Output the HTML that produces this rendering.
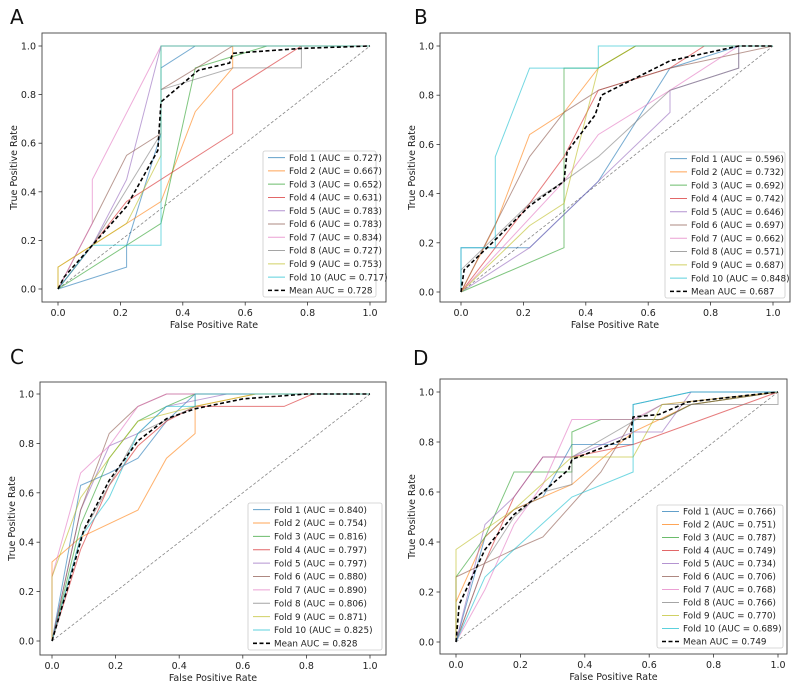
<!DOCTYPE html>
<html><head><meta charset="utf-8"><style>
html,body{margin:0;padding:0;background:#fff;}
svg{display:block;font-family:"DejaVu Sans","Liberation Sans",sans-serif;}
</style></head><body>
<svg id="s" width="799" height="682" xmlns="http://www.w3.org/2000/svg"></svg>
<script>
const NS="http://www.w3.org/2000/svg";
const S=document.getElementById('s');
function el(t,a,p){const e=document.createElementNS(NS,t);for(const k in a)e.setAttribute(k,a[k]);(p||S).appendChild(e);return e;}
function txt(x,y,s,a){const e=el('text',Object.assign({x:x,y:y},a||{}));e.textContent=s;return e;}
const C=['#1f77b4','#ff7f0e','#2ca02c','#d62728','#9467bd','#8c564b','#e377c2','#7f7f7f','#bcbd22','#17becf'];
const P=[
{L:'A',lx:10,ly:24,box:[42,33,344,269],x0:58,y0:289,W:312,H:243,leg:[263,151,113,146],
auc:['0.727','0.667','0.652','0.631','0.783','0.783','0.834','0.727','0.753','0.717'],mean:'0.728',
s:[[0,0,.22,.09,.22,.18,.33,.64,.33,.91,.44,1,1,1],
[0,0,0,.09,.11,.18,.33,.36,.44,.73,.56,.91,.56,1,1,1],
[0,0,.33,.27,.44,.91,.67,1,1,1],
[0,0,.11,.18,.22,.36,.56,.64,.56,.82,.78,1,1,1],
[0,0,.11,.18,.22,.45,.33,1,1,1],
[0,0,.11,.27,.22,.55,.33,.64,.33,.82,.56,1,1,1],
[0,0,.11,.27,.11,.45,.33,1,1,1],
[0,0,.11,.18,.33,.64,.33,.82,.56,.91,.78,.91,.78,1,1,1],
[0,0,0,.09,.11,.18,.22,.27,.33,.55,.33,1,1,1],
[0,0,.11,.18,.33,.18,.33,1,1,1]],
m:[0,0,.02,.05,.11,.18,.22,.34,.32,.57,.33,.77,.45,.9,.55,.93,.56,.97,.78,.99,1,1]},
{L:'B',lx:414,ly:24,box:[440,33,350,269],x0:461,y0:292,W:312,H:246,leg:[665,152,120,146],
auc:['0.596','0.732','0.692','0.742','0.646','0.697','0.662','0.571','0.687','0.848'],mean:'0.687',
s:[[0,0,0,.18,.22,.18,.44,.45,.67,.91,.89,1,1,1],
[0,0,.11,.27,.22,.64,.33,.73,.44,.91,.56,1,1,1],
[0,0,.33,.18,.33,.91,.44,.91,.56,1,1,1],
[0,0,.22,.36,.33,.55,.44,.82,.67,.91,.78,1,1,1],
[0,0,.22,.18,.44,.45,.67,.73,.67,.82,.89,.91,.89,1,1,1],
[0,0,.22,.55,.33,.73,.44,.82,.67,.91,1,1],
[0,0,.33,.45,.44,.64,.67,.82,.78,.91,.89,1,1,1],
[0,0,0,.09,.22,.36,.33,.45,.44,.55,.67,.82,.89,.91,.89,1,1,1],
[0,0,.22,.27,.33,.36,.44,.91,.56,1,1,1],
[0,0,0,.18,.11,.18,.11,.55,.22,.91,.44,.91,.44,1,1,1]],
m:[0,0,.01,.09,.1,.2,.22,.35,.33,.45,.34,.57,.43,.72,.45,.8,.56,.87,.67,.94,.78,.97,.89,1,1,1]},
{L:'C',lx:10,ly:364,box:[40,382,346,273],x0:52,y0:641,W:318,H:247,leg:[248,503,134,147],
auc:['0.840','0.754','0.816','0.797','0.797','0.880','0.890','0.806','0.871','0.825'],mean:'0.828',
s:[[0,0,.09,.63,.18,.68,.27,.74,.36,.89,.45,1,1,1],
[0,0,0,.32,.09,.42,.27,.53,.36,.74,.45,.84,.45,.95,.64,1,1,1],
[0,0,.09,.47,.18,.74,.27,.89,.36,.95,.45,1,1,1],
[0,0,.09,.37,.18,.63,.27,.79,.36,.89,.45,.95,.73,.95,.82,1,1,1],
[0,0,.09,.53,.18,.79,.27,.84,.36,.95,.55,1,1,1],
[0,0,.09,.53,.18,.84,.27,.95,.36,1,1,1],
[0,0,0,.26,.09,.68,.18,.79,.27,.95,.36,1,1,1],
[0,0,.09,.42,.18,.63,.27,.84,.45,.95,.45,1,1,1],
[0,0,0,.26,.09,.58,.18,.74,.27,.89,.45,.95,.64,1,1,1],
[0,0,.09,.42,.18,.58,.27,.84,.36,.95,.45,.95,.45,1,1,1]],
m:[0,0,.05,.22,.1,.45,.18,.65,.27,.81,.36,.9,.45,.94,.6,.98,.8,1,1,1]},
{L:'D',lx:413,ly:365,box:[440,379,347,275],x0:456,y0:642,W:322,H:250,leg:[657,505,126,143],
auc:['0.766','0.751','0.787','0.749','0.734','0.706','0.768','0.766','0.770','0.689'],mean:'0.749',
s:[[0,0,.09,.42,.18,.53,.27,.58,.36,.79,.55,.79,.55,.95,.73,1,1,1],
[0,0,0,.16,.09,.42,.18,.53,.36,.63,.55,.84,.73,.95,1,1],
[0,0,0,.26,.09,.42,.18,.68,.36,.68,.36,.84,.45,.89,.64,.89,.73,.95,1,1],
[0,0,.09,.32,.18,.58,.27,.74,.36,.74,.55,.79,1,1],
[0,0,.09,.47,.18,.58,.27,.74,.36,.74,.55,.84,.64,.84,.73,1,1,1],
[0,0,0,.26,.18,.37,.27,.42,.45,.68,.55,.89,.64,.89,.73,.95,1,1],
[0,0,.09,.21,.18,.47,.27,.63,.36,.89,.55,.89,.64,.95,1,1],
[0,0,.09,.32,.18,.5,.27,.6,.36,.63,.36,.74,.64,.95,.82,.95,1,.95,1,1],
[0,0,0,.37,.18,.53,.36,.74,.55,.74,.64,.95,1,1],
[0,0,.09,.26,.18,.37,.36,.58,.55,.68,.55,.95,.73,1,1,1]],
m:[0,0,.01,.15,.09,.37,.18,.51,.27,.6,.35,.69,.36,.73,.54,.82,.55,.9,.63,.91,.72,.96,1,1]}
];
for(const p of P){
  const X=v=>p.x0+v*p.W, Y=v=>p.y0-v*p.H;
  const pts=a=>{let r=[];for(let i=0;i<a.length;i+=2)r.push(X(a[i]).toFixed(1)+','+Y(a[i+1]).toFixed(1));return r.join(' ');};
  txt(p.lx,p.ly,p.L,{'font-size':20,fill:'#111'});
  const [bx,by,bw,bh]=p.box;
  el('line',{x1:X(0),y1:Y(0),x2:X(1),y2:Y(1),stroke:'#888','stroke-width':0.8,'stroke-dasharray':'3,2'});
  p.s.forEach((s,i)=>el('polyline',{points:pts(s),fill:'none',stroke:C[i],'stroke-width':1,'stroke-opacity':0.6}));
  el('polyline',{points:pts(p.m),fill:'none',stroke:'#000','stroke-width':1.6,'stroke-dasharray':'4,2.5'});
  el('rect',{x:bx,y:by,width:bw,height:bh,fill:'none',stroke:'#444','stroke-width':0.9});
  for(let i=0;i<=5;i++){const v=i/5,l=v.toFixed(1);
    el('line',{x1:X(v),y1:by+bh,x2:X(v),y2:by+bh+3.5,stroke:'#333','stroke-width':0.8});
    txt(X(v),by+bh+14,l,{'font-size':9.5,'text-anchor':'middle',fill:'#222'});
    el('line',{x1:bx,y1:Y(v),x2:bx-3.5,y2:Y(v),stroke:'#333','stroke-width':0.8});
    txt(bx-6,Y(v)+3.5,l,{'font-size':9.5,'text-anchor':'end',fill:'#222'});
  }
  txt(bx+bw/2,by+bh+26,'False Positive Rate',{'font-size':9.5,'text-anchor':'middle',fill:'#222'});
  const yl=txt(0,0,'True Positive Rate',{'font-size':9.5,'text-anchor':'middle',fill:'#222'});
  yl.setAttribute('transform','translate('+(bx-25)+','+(by+bh/2)+') rotate(-90)');
  const [lx,ly,lw,lh]=p.leg;
  el('rect',{x:lx,y:ly,width:lw,height:lh,fill:'#fff','fill-opacity':0.85,stroke:'#ccc','stroke-width':0.8,rx:2});
  const rh=lh/11;
  for(let i=0;i<11;i++){const yy=ly+rh*(i+0.5);
    const last=i==10;
    el('line',{x1:lx+5,y1:yy,x2:lx+22,y2:yy,stroke:last?'#000':C[i],'stroke-width':last?1.6:1,'stroke-dasharray':last?'4,2.5':'none','stroke-opacity':last?1:0.7});
    txt(lx+26,yy+3.2,last?'Mean AUC = '+p.mean:'Fold '+(i+1)+' (AUC = '+p.auc[i]+')',{'font-size':8.8,fill:'#222'});
  }
}
</script>
</body></html>
